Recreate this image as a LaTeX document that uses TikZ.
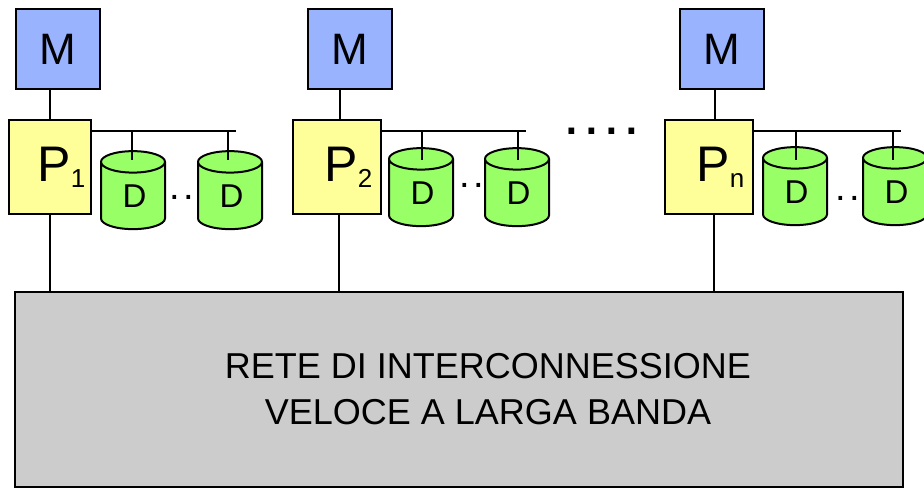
\documentclass[tikz,border=0pt]{standalone}
\usepackage{fontspec}
\setmainfont{Liberation Sans}
\usetikzlibrary{shapes.geometric}
\definecolor{memblue}{HTML}{99B3FF}
\definecolor{procyellow}{HTML}{FFFF99}
\definecolor{diskgreen}{HTML}{99FF66}
\definecolor{netgray}{HTML}{CCCCCC}
\newcommand{\fs}[1]{\fontsize{#1}{#1}\selectfont}
\tikzset{
  line/.style={draw=black,line width=2pt},
  membox/.style={line,fill=memblue,minimum width=84pt,minimum height=80pt,inner sep=0pt,font=\fs{44}},
  procbox/.style={line,fill=procyellow,minimum height=94pt,inner sep=0pt,font=\fs{50}},
  disk/.style={line,fill=diskgreen,cylinder,shape border rotate=90,aspect=0.8,minimum width=64pt,minimum height=78pt,inner sep=0pt,font=\fs{33}},
  netbox/.style={line,fill=netgray,inner sep=0pt},
  plain/.style={inner sep=0pt,font=\fs{36}}
}
\begin{document}
\begin{tikzpicture}[x=1pt,y=-1pt]

\useasboundingbox (0,0) rectangle (924,488);
\clip (0,0) rectangle (924,488);

% --- Rete
\node[netbox,minimum width=888pt,minimum height=195pt] (net) at (459,389.5) {};
\node[plain,align=center] (rete) at (488,389) {RETE DI INTERCONNESSIONE\\[10pt]VELOCE A LARGA BANDA};

% --- Colonne: id / M / P / larghezza P / dischi / y dischi / attacchi / fine bus / linee / pedice / puntini
\foreach \id/\mx/\px/\pw/\da/\db/\dy/\sa/\sb/\be/\la/\lb/\sub/\ptx/\pty in {
  1/58/50/82/133/230/196/132/228/236/50/50/1/182/197,
  2/350/337/88/421/517/193/422/518/526/340/339/2/472/185,
  3/722/709/88/795/895/192/796/893/901/715/714/n/848/198}{
  \node[membox] (m\id) at (\mx,49) {M};
  \node[procbox,minimum width=\pw pt] (p\id) at (\px,167) {\hspace*{23pt}P\raisebox{-6pt}{\fs{26}\sub}};
  \node[disk] (da\id) at (\da,\dy) {\hspace*{3pt}D};
  \node[disk] (db\id) at (\db,\dy) {\hspace*{3pt}D};
  \coordinate (bus\id) at (\be,131);
  % collegamenti
  \draw[line] (\la,0 |- m\id.south) -- (\la,0 |- p\id.north);
  \draw[line] (\lb,0 |- p\id.south) -- (\lb,0 |- net.north);
  \draw[line] (p\id.east |- bus\id) -- (bus\id);
  \draw[line] (\sa,131) -- (\sa,160);
  \draw[line] (\sb,131) -- (\sb,160);
  \node[plain,font=\fs{38}] (pts\id) at (\ptx,\pty) {.\hspace{3.4pt}.};
}

\node[plain,font=\fs{60}] (dots) at (602,131) {.\hspace{3.3pt}.\hspace{3.3pt}.\hspace{3.3pt}.};

\end{tikzpicture}
\end{document}
